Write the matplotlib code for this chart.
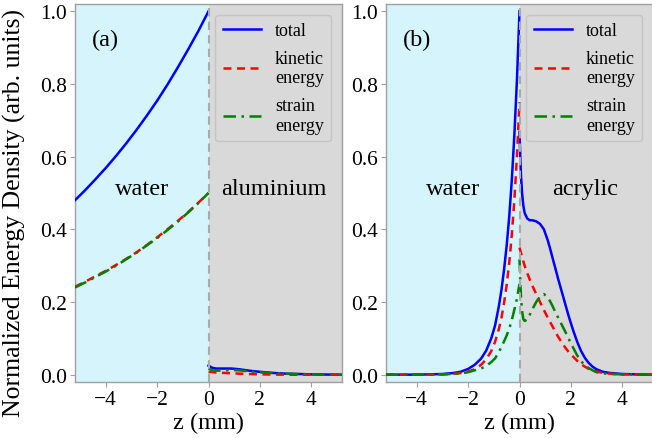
import matplotlib
matplotlib.use("Agg")
import matplotlib.pyplot as plt

plt.rcParams['font.family'] = ['Liberation Serif', 'DejaVu Serif']
plt.rcParams['mathtext.fontset'] = 'stix'

# ---------------- Panel (a): water / aluminium ----------------
a_water_z = [-5.2, -4.8, -4.4, -4.0, -3.6, -3.2, -2.8, -2.4, -2.0, -1.6, -1.2, -0.8, -0.4, 0.0]
a_water_total = [0.48, 0.508, 0.538, 0.569, 0.602, 0.637, 0.674, 0.713, 0.754, 0.798, 0.845,
                 0.894, 0.945, 1.0]
a_water_kin = [0.242, 0.256, 0.271, 0.286, 0.302, 0.319, 0.337, 0.357, 0.378, 0.4, 0.423,
               0.447, 0.473, 0.5]
a_water_str = [0.24, 0.254, 0.269, 0.284, 0.3, 0.318, 0.336, 0.356, 0.376, 0.398, 0.421,
               0.446, 0.472, 0.5]

a_solid_z = [0.0, 0.15, 0.3, 0.6, 0.9, 1.2, 1.6, 2.0, 2.5, 3.0, 4.0, 5.2]
a_solid_total = [0.025, 0.019, 0.017, 0.017, 0.017, 0.015, 0.011, 0.008, 0.005, 0.003, 0.001, 0.0]
a_solid_kin = [0.008, 0.007, 0.006, 0.005, 0.004, 0.003, 0.002, 0.001, 0.0005, 0.0002, 0.0, 0.0]
a_solid_str = [0.017, 0.012, 0.011, 0.012, 0.013, 0.012, 0.009, 0.007, 0.0045, 0.0028, 0.001, 0.0]

# ---------------- Panel (b): water / acrylic ----------------
b_water_z = [-5.2, -4.0, -3.5, -3.0, -2.6, -2.3, -2.0, -1.75, -1.5, -1.3, -1.1, -0.95, -0.8,
             -0.7, -0.6, -0.5, -0.4, -0.3, -0.2, -0.1, 0.0]
b_water_total = [0.0, 0.0003, 0.001, 0.002, 0.0045, 0.008, 0.016, 0.027, 0.044, 0.066, 0.1,
                 0.136, 0.19, 0.235, 0.29, 0.355, 0.435, 0.535, 0.66, 0.81, 1.0]
b_water_kin = [0.0, 0.0001, 0.0003, 0.001, 0.0023, 0.0045, 0.0088, 0.015, 0.027, 0.042, 0.065,
               0.091, 0.127, 0.158, 0.198, 0.247, 0.308, 0.385, 0.481, 0.601, 0.75]
b_water_str = [0.0, 0.0002, 0.0007, 0.001, 0.0022, 0.0035, 0.007, 0.012, 0.017, 0.024, 0.035,
               0.045, 0.063, 0.077, 0.092, 0.108, 0.127, 0.15, 0.179, 0.209, 0.25]

b_solid_z = [0.0, 0.03, 0.06, 0.1, 0.15, 0.2, 0.3, 0.4, 0.5, 0.65, 0.8, 0.95, 1.1, 1.2, 1.3,
             1.4, 1.5, 1.6, 1.7, 1.8, 1.9, 2.0, 2.1, 2.25, 2.4, 2.55, 2.7, 2.85, 3.0, 3.25,
             3.5, 4.0, 5.2]
b_solid_total = [0.667, 0.6, 0.545, 0.5, 0.465, 0.445, 0.43, 0.425, 0.425, 0.422, 0.415, 0.4,
                 0.37, 0.345, 0.318, 0.292, 0.265, 0.24, 0.215, 0.19, 0.165, 0.142, 0.12,
                 0.09, 0.065, 0.046, 0.032, 0.022, 0.015, 0.008, 0.005, 0.002, 0.0]
b_solid_kin = [0.35, 0.342, 0.335, 0.325, 0.312, 0.30, 0.28, 0.262, 0.245, 0.222, 0.20, 0.178,
               0.157, 0.144, 0.131, 0.118, 0.105, 0.094, 0.083, 0.073, 0.064, 0.056, 0.049,
               0.038, 0.029, 0.022, 0.016, 0.012, 0.009, 0.005, 0.003, 0.001, 0.0]
b_solid_str = [0.318, 0.258, 0.21, 0.175, 0.153, 0.148, 0.152, 0.165, 0.18, 0.2, 0.215, 0.222,
               0.213, 0.201, 0.187, 0.172, 0.158, 0.144, 0.13, 0.116, 0.101, 0.087, 0.073,
               0.053, 0.037, 0.026, 0.018, 0.012, 0.007, 0.004, 0.002, 0.001, 0.0]

legend_labels = ["total", "kinetic\nenergy", "strain\nenergy"]
panel_tags = ["(a)", "(b)"]
medium_left = ["water", "water"]
medium_right = ["aluminium", "acrylic"]
x_ticks = [-4, -2, 0, 2, 4]
y_ticks = [0.0, 0.2, 0.4, 0.6, 0.8, 1.0]

water_color = '#d5f4fc'
solid_color = '#d9d9d9'
spine_color = '#a0a0a0'

fig = plt.figure(figsize=(6.52, 4.39), dpi=100)
ax1 = fig.add_axes([75/652, 1-383/439, 267/652, 378/439])
ax2 = fig.add_axes([386/652, 1-383/439, 267/652, 378/439])

panels = [
    (ax1, a_water_z, a_water_total, a_water_kin, a_water_str,
     a_solid_z, a_solid_total, a_solid_kin, a_solid_str),
    (ax2, b_water_z, b_water_total, b_water_kin, b_water_str,
     b_solid_z, b_solid_total, b_solid_kin, b_solid_str),
]

dash_k = (0, (3.2, 2.2))
dash_s = (0, (5, 2.2, 1, 2.2))

for i, (ax, wz, wt, wk, ws, sz, st, sk, ss) in enumerate(panels):
    xlim = (-5.2, 5.2)
    ax.axvspan(xlim[0], 0, color=water_color, zorder=0, lw=0)
    ax.axvspan(0, xlim[1], color=solid_color, zorder=0, lw=0)
    lt, = ax.plot(wz, wt, color='#0000ff', lw=1.8, zorder=3)
    lk, = ax.plot(wz, wk, color='#ff0000', lw=1.8, ls=dash_k, zorder=4)
    ls_, = ax.plot(wz, ws, color='#008000', lw=1.8, ls=dash_s, zorder=4)
    ax.plot(sz, st, color='#0000ff', lw=1.8, zorder=3)
    ax.plot(sz, sk, color='#ff0000', lw=1.8, ls=dash_k, zorder=4)
    ax.plot(sz, ss, color='#008000', lw=1.8, ls=dash_s, zorder=4)
    ax.axvline(0, color='#aaaaaa', lw=1.5, ls=(0, (4, 2.5)), zorder=5)
    ax.set_xlim(*xlim)
    ax.set_ylim(-0.02, 1.02)
    ax.set_xticks(x_ticks)
    ax.set_yticks(y_ticks)
    ax.set_yticklabels([f"{v:.1f}" for v in y_ticks])
    ax.tick_params(labelsize=15.5, color=spine_color, length=3.5, width=0.8, pad=2)
    for sp in ax.spines.values():
        sp.set_color(spine_color)
        sp.set_linewidth(1.0)
    ax.set_xlabel("z (mm)", fontsize=17.5, labelpad=2)
    ax.text(0.115, 0.907, panel_tags[i], transform=ax.transAxes, fontsize=17.5,
            ha='center', va='center')
    ax.text(0.25, 0.513, medium_left[i], transform=ax.transAxes, fontsize=17.5,
            ha='center', va='center')
    ax.text(0.745, 0.513, medium_right[i], transform=ax.transAxes, fontsize=17.5,
            ha='center', va='center')
    leg = ax.legend([lt, lk, ls_], legend_labels, loc='upper right', fontsize=13,
                    frameon=True, fancybox=True, framealpha=1.0,
                    facecolor='#d9d9d9', edgecolor='#c4c4c4',
                    handlelength=2.1, labelspacing=0.6, borderaxespad=0.6)

fig.text(0.022, 0.515, "Normalized Energy Density (arb. units)", rotation=90,
         fontsize=18.5, ha='center', va='center')

fig.savefig("out.png", dpi=100)
